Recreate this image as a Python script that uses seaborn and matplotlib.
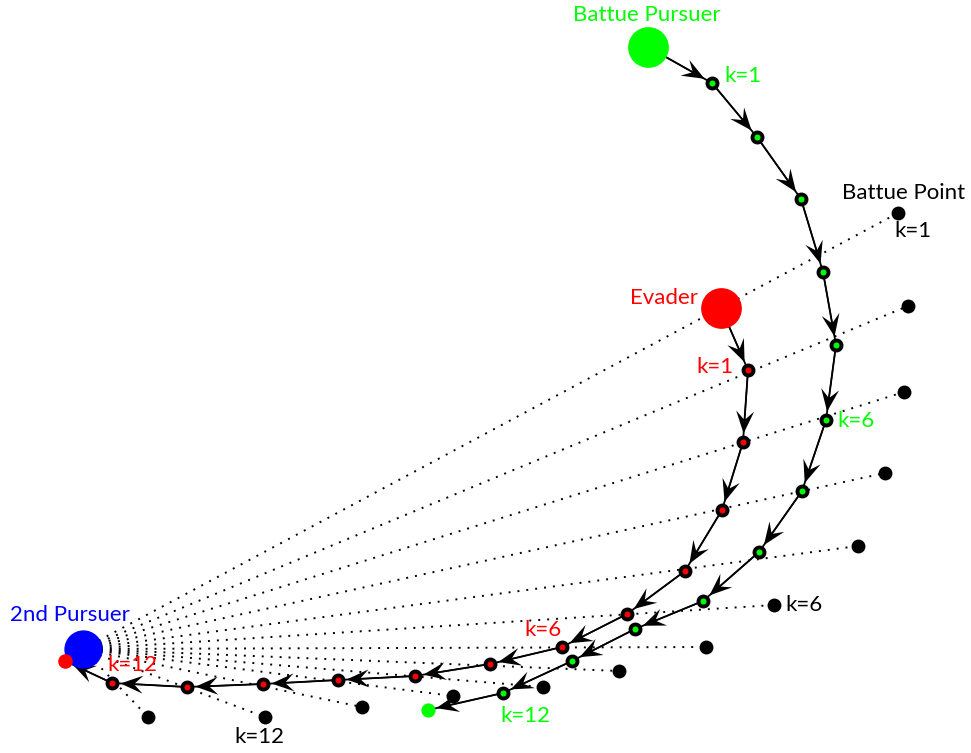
import numpy as np
import pandas as pd
import matplotlib
matplotlib.use("Agg")
import matplotlib.pyplot as plt
import seaborn as sns

# Planar positions (x, y) of every agent at each step of the battue chase.
# Index 0 is the initial position, indices 1..12 are steps k=1..12, index 13 the end.
pursuer_x = [648, 712, 757, 801, 823, 836, 826, 802, 759, 703, 635, 572, 503, 428]
pursuer_y = [706, 670, 616, 554, 481, 408, 333, 262, 201, 152, 124, 92, 60, 43]

evader_x = [721, 748, 743, 722, 685, 627, 562, 490, 415, 338, 263, 187, 112, 65]
evader_y = [445, 383, 311, 243, 182, 139, 106, 89, 77, 73, 69, 66, 70, 92]

# Battue points, one per step
battue_x = [898, 908, 904, 885, 858, 774, 706, 619, 543, 453, 362, 265, 148]
battue_y = [540, 447, 361, 280, 207, 148, 106, 82, 66, 57, 46, 36, 36]

# Second pursuer (stationary)
second_x = [83]
second_y = [104]

GREEN = "#00ff00"
RED = "#ff0000"
BLUE = "#0000ff"

sns.set_theme(style="white")
plt.rcParams["font.family"] = ["Lato", "DejaVu Sans"]

W, H = 971, 753
fig = plt.figure(figsize=(W / 100, H / 100), dpi=100)
ax = fig.add_axes([0, 0, 1, 1])
ax.set_xlim(0, W)
ax.set_ylim(0, H)
ax.set_axis_off()

# Dotted sight lines from the second pursuer to each battue point
rays = pd.DataFrame({
    "ray": np.repeat(np.arange(len(battue_x)), 2),
    "x": np.ravel([[second_x[0], bx] for bx in battue_x]),
    "y": np.ravel([[second_y[0], by] for by in battue_y]),
})
sns.lineplot(data=rays, x="x", y="y", units="ray", estimator=None, sort=False,
             color="black", linewidth=1.4, linestyle=(0, (1, 3.6)), ax=ax, zorder=1)

# Trajectories with arrowheads pointing to the next position
def trajectory(xs, ys):
    df = pd.DataFrame({"x": xs, "y": ys})
    sns.lineplot(data=df, x="x", y="y", sort=False, estimator=None,
                 color="black", linewidth=1.3, ax=ax, zorder=2)
    p = np.column_stack([xs, ys]).astype(float)
    d = p[1:] - p[:-1]
    L = np.hypot(d[:, 0], d[:, 1])[:, None]
    tip = p[1:] - d / L * 8.5  # stop the head at the rim of the next marker
    uv = tip - p[:-1]
    ax.quiver(p[:-1, 0], p[:-1, 1], uv[:, 0], uv[:, 1], angles="xy",
              scale_units="xy", scale=1, units="dots", width=1.5,
              headwidth=12, headlength=15, headaxislength=9.5,
              color="black", zorder=2.5)

trajectory(pursuer_x, pursuer_y)
trajectory(evader_x, evader_y)

# Intermediate positions: black ring with coloured core
ax.plot(pursuer_x[1:-1], pursuer_y[1:-1], "o", ms=7.2, mfc=GREEN, mec="black",
        mew=2.8, zorder=4, ls="none")
ax.plot(evader_x[1:-1], evader_y[1:-1], "o", ms=7.2, mfc=RED, mec="black",
        mew=2.8, zorder=4, ls="none")

# Battue points
sns.scatterplot(x=battue_x, y=battue_y, color="black", s=100, linewidth=0,
                ax=ax, zorder=3)

# Start and end positions
sns.scatterplot(x=[pursuer_x[0]], y=[pursuer_y[0]], color=GREEN, s=860,
                linewidth=0, ax=ax, zorder=5)
sns.scatterplot(x=[evader_x[0]], y=[evader_y[0]], color=RED, s=860,
                linewidth=0, ax=ax, zorder=5)
sns.scatterplot(x=second_x, y=second_y, color=BLUE, s=760,
                linewidth=0, ax=ax, zorder=5)
sns.scatterplot(x=[pursuer_x[-1]], y=[pursuer_y[-1]], color=GREEN, s=105,
                linewidth=0, ax=ax, zorder=6)
sns.scatterplot(x=[evader_x[-1]], y=[evader_y[-1]], color=RED, s=110,
                linewidth=0, ax=ax, zorder=6)

fs = 16
def label(x, y, s, c, ha="left"):
    ax.text(x, y, s, color=c, fontsize=fs, ha=ha, va="center", zorder=7)

label(647, 738, "Battue Pursuer", GREEN, ha="center")
label(724, 677, "k=1", GREEN)
label(837, 332, "k=6", GREEN)
label(500, 37, "k=12", GREEN)

label(698, 455, "Evader", RED, ha="right")
label(734, 386, "k=1", RED, ha="right")
label(524, 123, "k=6", RED)
label(107, 88, "k=12", RED)

label(842, 560, "Battue Point", "black")
label(894, 522, "k=1", "black")
label(785, 148, "k=6", "black")
label(234, 16, "k=12", "black")

label(10, 138, "2nd Pursuer", BLUE)

fig.savefig("out.png", dpi=100)
